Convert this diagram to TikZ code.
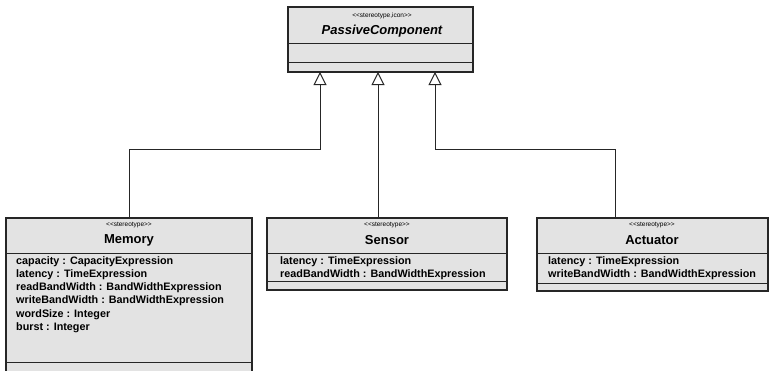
\documentclass[tikz,border=0pt]{standalone}
\usepackage{fontspec}
\setmainfont{Liberation Sans}
\usetikzlibrary{arrows.meta}

\tikzset{
  classbox/.style={draw=black!85, line width=1.1pt, fill=black!11, anchor=north west,
    inner sep=0pt, outer sep=0pt},
  divider/.style={draw=black!85, line width=1pt},
  stereo/.style={font=\fontsize{6.5}{7.5}\selectfont, inner sep=0pt},
  cname/.style={font=\fontsize{13}{15}\selectfont\bfseries, inner sep=0pt},
  attrs/.style={font=\fontsize{10.8}{13.3}\selectfont\bfseries, inner sep=0pt,
    anchor=north west, align=left},
  gen/.style={draw=black!85, line width=1pt,
    -{Triangle[open, length=13pt, width=13pt, fill=white, line width=1pt]}},
}
\newcommand{\stype}[1]{<{}<#1>{}>}

\begin{document}
\begin{tikzpicture}[x=1pt, y=-1pt]
\useasboundingbox (0,0) rectangle (769,370);

% abstract parent class
\node[classbox, minimum width=185pt, minimum height=65pt] (pc) at (288,7) {};
\draw[divider] (pc.west |- 0,43) -- (pc.east |- 0,43);
\draw[divider] (pc.west |- 0,62) -- (pc.east |- 0,62);
\node[stereo] (pc-st) at (382,16) {\stype{stereotype,icon}};
\node[cname, font=\fontsize{13}{15}\selectfont\bfseries\itshape] (pc-nm) at (382,31) {PassiveComponent};

% Memory
\node[classbox, minimum width=246pt, minimum height=156pt] (mem) at (6,218) {};
\draw[divider] (mem.west |- 0,253) -- (mem.east |- 0,253);
\draw[divider] (mem.west |- 0,362) -- (mem.east |- 0,362);
\node[stereo] (mem-st) at (129,225) {\stype{stereotype}};
\node[cname] (mem-nm) at (129,240) {Memory};
\node[attrs] (mem-at) at (16,256) {capacity : CapacityExpression\\
  latency : TimeExpression\\
  readBandWidth : BandWidthExpression\\
  writeBandWidth : BandWidthExpression\\
  wordSize : Integer\\
  burst : Integer};

% Sensor
\node[classbox, minimum width=240pt, minimum height=72pt] (sen) at (267,218) {};
\draw[divider] (sen.west |- 0,253) -- (sen.east |- 0,253);
\draw[divider] (sen.west |- 0,281) -- (sen.east |- 0,281);
\node[stereo] (sen-st) at (387,225) {\stype{stereotype}};
\node[cname] (sen-nm) at (387,240) {Sensor};
\node[attrs] (sen-at) at (280,256) {latency : TimeExpression\\
  readBandWidth : BandWidthExpression};

% Actuator
\node[classbox, minimum width=231pt, minimum height=73pt] (act) at (537,218) {};
\draw[divider] (act.west |- 0,253) -- (act.east |- 0,253);
\draw[divider] (act.west |- 0,283) -- (act.east |- 0,283);
\node[stereo] (act-st) at (652,225) {\stype{stereotype}};
\node[cname] (act-nm) at (652,240) {Actuator};
\node[attrs] (act-at) at (548,256) {latency : TimeExpression\\
  writeBandWidth : BandWidthExpression};

% generalization connectors
\coordinate (pcL) at (320,72);
\coordinate (pcM) at (378,72);
\coordinate (pcR) at (435,72);
\coordinate (kL) at (320,149);
\coordinate (kR) at (435,149);
\coordinate (aX) at (615,0);

\draw[gen] (mem.north) |- (kL) -- (pcL);
\draw[gen] (sen.north -| pcM) -- (pcM);
\draw[gen] (act.north -| aX) |- (kR) -- (pcR);
\end{tikzpicture}
\end{document}
